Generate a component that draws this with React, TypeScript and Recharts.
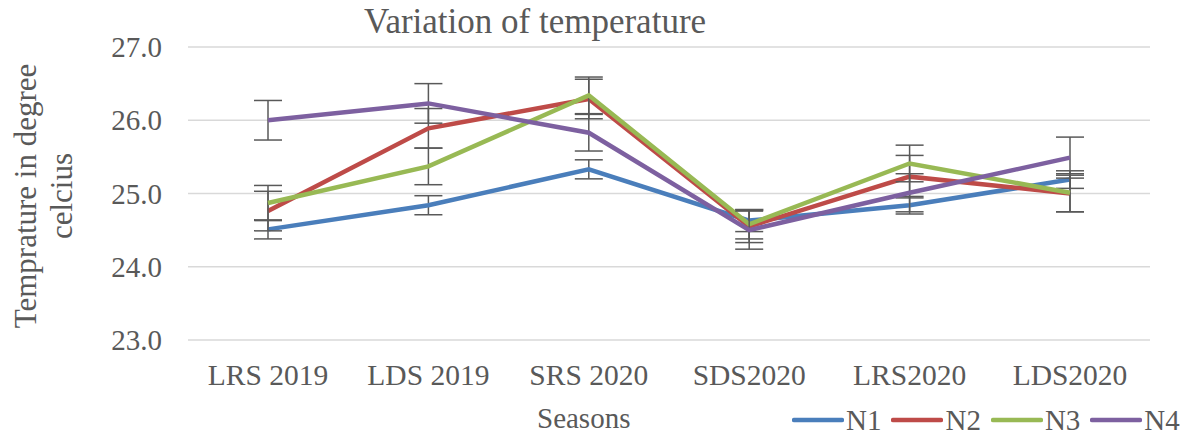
import { LineChart, Line, XAxis, YAxis, CartesianGrid, ErrorBar } from 'recharts';

const seasons = ['LRS 2019', 'LDS 2019', 'SRS 2020', 'SDS2020', 'LRS2020', 'LDS2020'];

const n1 = [24.51, 24.84, 25.33, 24.63, 24.84, 25.19];
const n2 = [24.76, 25.89, 26.29, 24.55, 25.23, 25.0];
const n3 = [24.87, 25.37, 26.34, 24.58, 25.41, 25.01];
const n4 = [26.0, 26.23, 25.83, 24.5, 25.01, 25.49];

const n1Err = [0.13, 0.13, 0.13, 0.15, 0.12, 0.12];
const n2Err = [0.27, 0.27, 0.27, 0.22, 0.29, 0.25];
const n3Err = [0.24, 0.25, 0.25, 0.2, 0.25, 0.26];
const n4Err = [0.27, 0.27, 0.25, 0.26, 0.26, 0.28];

const yTicks = [23, 24, 25, 26, 27];

const series = [
  { key: 'N1', color: '#4a7ebb' },
  { key: 'N2', color: '#be4b48' },
  { key: 'N3', color: '#98b954' },
  { key: 'N4', color: '#7d60a0' },
];

const data = seasons.map((s, i) => ({
  season: s,
  N1: n1[i],
  N2: n2[i],
  N3: n3[i],
  N4: n4[i],
  N1err: n1Err[i],
  N2err: n2Err[i],
  N3err: n3Err[i],
  N4err: n4Err[i],
}));

const FONT = '"Liberation Serif", "DejaVu Serif", "Noto Serif", serif';
const TEXT = '#595959';

// x tick: centred under the point, a fixed gap below the plot
function XTick(props: any) {
  const { x, y, payload } = props;
  return (
    <text x={x} y={y + 45} textAnchor="middle" fill={TEXT} style={{ fontFamily: FONT, fontSize: 29.5 }}>
      {payload.value}
    </text>
  );
}

function YTick(props: any) {
  const { x, y, payload } = props;
  return (
    <text x={x - 26} y={y + 10} textAnchor="end" fill={TEXT} style={{ fontFamily: FONT, fontSize: 29 }}>
      {Number(payload.value).toFixed(1)}
    </text>
  );
}

function ChartLegend() {
  return (
    <div
      style={{
        position: 'absolute',
        left: 792,
        top: 403,
        display: 'flex',
        alignItems: 'center',
        fontSize: 29,
        color: TEXT,
        lineHeight: '34px',
      }}
    >
      {series.map((s) => (
        <div key={s.key} style={{ display: 'flex', alignItems: 'center', marginRight: 10 }}>
          <svg width={52} height={8} style={{ marginRight: 2 }}>
            <line x1={2} y1={4} x2={50} y2={4} stroke={s.color} strokeWidth={4.5} strokeLinecap="round" />
          </svg>
          <span>{s.key}</span>
        </div>
      ))}
    </div>
  );
}

export default function App() {
  return (
    <div style={{ position: 'absolute', left: 0, top: 0, width: 1187, height: 437, background: '#fff', fontFamily: FONT }}>
      <div style={{ position: 'absolute', left: 364, top: 2, fontSize: 35, color: TEXT, whiteSpace: 'nowrap' }}>
        Variation of temperature
      </div>
      <div
        style={{
          position: 'absolute',
          left: 44,
          top: 196,
          transform: 'translate(-50%, -50%) rotate(-90deg)',
          fontSize: 31,
          color: TEXT,
          lineHeight: '36px',
          textAlign: 'center',
          whiteSpace: 'nowrap',
        }}
      >
        Temprature in degree
        <br />
        celcius
      </div>
      <div style={{ position: 'absolute', left: 537, top: 402, fontSize: 29, color: TEXT }}>Seasons</div>
      <LineChart
        width={1187}
        height={437}
        data={data}
        margin={{ top: 47, right: 37, left: 0, bottom: 0 }}
        style={{ fontFamily: FONT }}
      >
        <CartesianGrid vertical={false} stroke="#d9d9d9" strokeWidth={1.5} />
        <XAxis
          dataKey="season"
          height={97}
          axisLine={false}
          tickLine={false}
          tickSize={0}
          tickMargin={0}
          padding={{ left: 80, right: 80 }}
          interval={0}
          tick={<XTick />}
        />
        <YAxis
          width={188}
          domain={[23, 27]}
          ticks={yTicks}
          axisLine={false}
          tickLine={false}
          tickSize={0}
          tickMargin={0}
          tick={<YTick />}
        />
        {series.map((s) => (
          <Line
            key={s.key}
            dataKey={s.key}
            stroke={s.color}
            strokeWidth={4.5}
            dot={false}
            type="linear"
            isAnimationActive={false}
          >
            <ErrorBar dataKey={`${s.key}err`} width={14} stroke="#595959" strokeWidth={1.5} direction="y" />
          </Line>
        ))}
      </LineChart>
      <ChartLegend />
    </div>
  );
}
